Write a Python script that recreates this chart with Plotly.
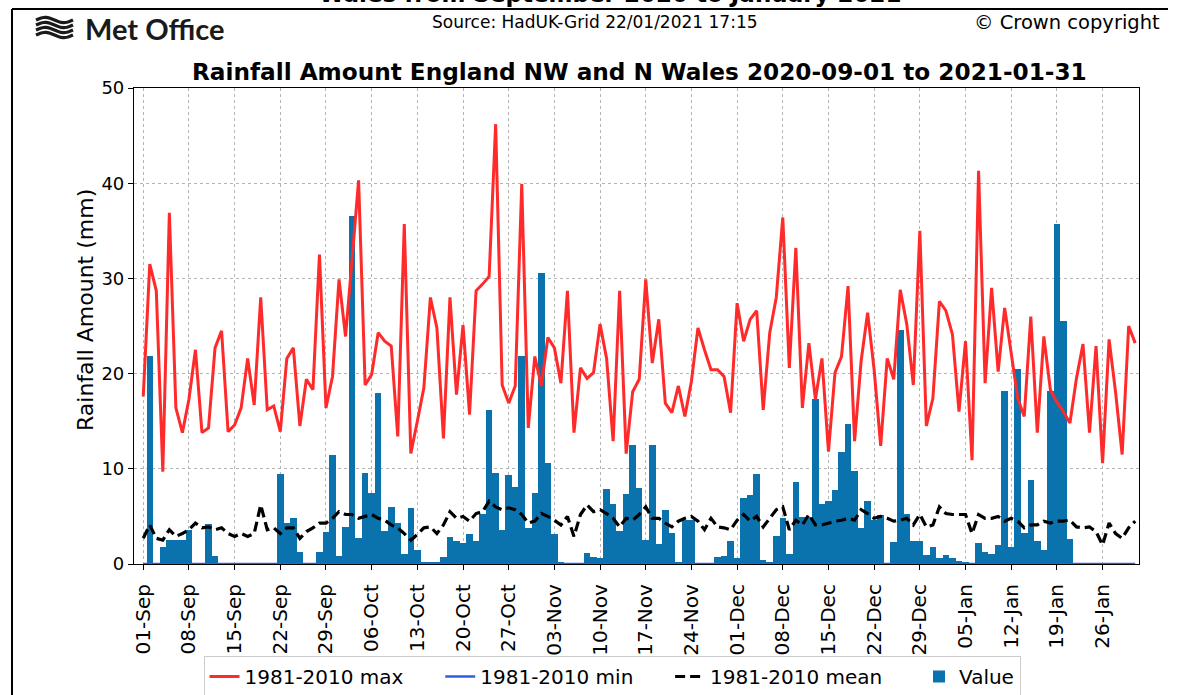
import numpy as np
import pandas as pd
import plotly.graph_objects as go

# ---- data: daily rainfall (mm), 2020-09-01 .. 2021-01-31 ----
dates = pd.date_range("2020-09-01", "2021-01-31", freq="D")

max_1981_2010 = [
    17.6, 31.5, 28.7, 9.7, 36.9, 16.4, 13.8, 17.3, 22.5, 13.8,
    14.3, 22.7, 24.5, 13.9, 14.6, 16.4, 21.6, 16.7, 28.0, 16.2,
    16.6, 13.9, 21.6, 22.7, 14.5, 19.4, 18.3, 32.5, 16.4, 19.7,
    29.9, 23.9, 32.0, 40.3, 18.8, 19.9, 24.3, 23.4, 22.9, 13.4,
    35.7, 11.6, 15.0, 18.5, 28.0, 24.8, 13.2, 28.0, 17.8, 25.1,
    15.7, 28.7, 29.4, 30.2, 46.2, 18.8, 16.9, 18.7, 39.9, 14.3,
    21.8, 18.7, 23.8, 22.7, 19.0, 28.7, 13.8, 20.6, 19.5, 20.1,
    25.2, 21.6, 12.9, 28.7, 11.6, 18.1, 19.4, 29.9, 21.1, 25.7,
    16.9, 15.9, 18.7, 15.5, 19.2, 24.8, 22.5, 20.4, 20.4, 19.7,
    15.9, 27.4, 23.4, 25.7, 26.6, 16.2, 24.3, 28.0, 36.4, 20.6,
    33.2, 16.4, 23.2, 17.3, 21.6, 11.8, 20.1, 21.8, 29.2, 12.9,
    21.3, 26.4, 20.4, 12.4, 21.6, 19.4, 28.8, 25.2, 18.8, 35.0,
    14.5, 17.4, 27.6, 26.6, 24.1, 16.0, 23.4, 10.9, 41.3, 19.0,
    29.0, 20.2, 26.9, 22.2, 17.4, 15.5, 26.0, 13.8, 23.9, 18.3,
    17.0, 16.0, 14.8, 19.5, 23.1, 13.8, 22.9, 10.6, 23.6, 18.0,
    11.5, 25.0, 23.2,
]

min_1981_2010 = [0.0] * len(dates)

mean_1981_2010 = [
    2.7, 4.1, 2.7, 2.5, 3.6, 2.9, 3.2, 3.6, 4.3, 3.8,
    3.9, 3.6, 3.8, 3.2, 2.9, 3.2, 2.9, 3.2, 6.2, 3.6,
    3.8, 3.2, 3.8, 3.8, 2.7, 3.4, 3.8, 4.3, 4.3, 4.8,
    5.5, 5.2, 5.2, 4.8, 5.0, 5.2, 4.8, 4.6, 4.1, 3.8,
    3.2, 2.5, 3.1, 3.8, 3.9, 3.2, 4.1, 5.5, 4.8, 5.0,
    4.5, 5.3, 5.5, 6.6, 6.0, 5.7, 5.9, 5.7, 5.2, 4.3,
    4.5, 5.3, 5.0, 4.6, 4.1, 5.0, 2.9, 5.2, 6.2, 5.5,
    5.7, 5.3, 4.8, 3.9, 4.8, 4.6, 5.2, 6.0, 4.8, 4.8,
    4.3, 3.9, 4.5, 4.8, 5.0, 4.5, 3.6, 4.8, 3.9, 3.8,
    3.6, 4.6, 5.2, 4.5, 5.0, 3.9, 4.8, 5.7, 6.0, 3.6,
    4.6, 4.1, 5.2, 4.1, 4.1, 4.3, 4.5, 4.6, 4.8, 4.6,
    5.7, 5.3, 4.8, 5.0, 4.8, 4.5, 4.6, 4.8, 4.1, 5.2,
    3.9, 4.1, 6.0, 5.3, 5.2, 5.2, 5.2, 3.2, 5.2, 4.8,
    4.8, 5.0, 4.5, 4.8, 4.5, 3.8, 4.1, 4.1, 4.5, 4.3,
    4.5, 4.5, 4.6, 3.9, 3.8, 3.9, 3.4, 2.0, 4.3, 3.2,
    2.7, 3.8, 4.5,
]

# observed daily totals, available up to 21 Jan 2021
observed = [
    0.0, 21.9, 0.1, 1.8, 2.5, 2.5, 2.5, 3.6, 0.0, 0.0,
    4.2, 0.8, 0.0, 0.0, 0.0, 0.0, 0.0, 0.0, 0.0, 0.0,
    0.0, 9.5, 4.3, 4.8, 1.3, 0.05, 0.0, 1.3, 3.4, 11.4,
    0.8, 3.9, 36.6, 2.7, 9.6, 7.5, 18.0, 3.5, 6.0, 4.3,
    1.1, 5.9, 1.5, 0.2, 0.2, 0.2, 0.7, 2.8, 2.4, 2.2,
    3.2, 2.4, 5.3, 16.2, 9.6, 3.6, 9.4, 8.1, 21.8, 3.8,
    7.5, 30.6, 10.6, 3.1, 0.2, 0.1, 0.1, 0.1, 1.2, 0.7,
    0.6, 7.9, 6.3, 3.5, 7.4, 12.5, 8.0, 2.5, 12.5, 2.1,
    5.7, 3.3, 0.2, 4.6, 4.6, 0.05, 0.05, 0.05, 0.7, 0.8,
    2.4, 0.6, 6.9, 7.2, 9.5, 0.4, 0.2, 2.9, 4.8, 1.1,
    8.6, 4.9, 4.9, 17.3, 6.3, 6.6, 7.8, 11.8, 14.7, 9.8,
    3.8, 6.6, 4.6, 5.2, 0.1, 2.3, 24.6, 5.3, 2.4, 2.4,
    0.9, 1.8, 0.6, 0.9, 0.6, 0.3, 0.2, 0.1, 2.2, 1.3,
    1.1, 2.0, 18.2, 1.8, 20.5, 3.3, 8.8, 2.4, 1.5, 18.2,
    35.7, 25.5, 2.6,
]
observed = observed + [None] * (len(dates) - len(observed))

y_ticks = [0, 10, 20, 30, 40, 50]

assert len(max_1981_2010) == len(dates) == len(mean_1981_2010)

# ---- page geometry ----
W, H = 1200, 695
L, R, T, B = 134, 1139, 88, 564


def px(x):
    return (x - L) / (R - L)


def py(y):
    return (B - y) / (B - T)


FONT = "DejaVu Sans"
BAR_COLOUR = "#0a72ad"
PAD = "\u00a0" * 5  # extra spacing after legend labels

fig = go.Figure()

fig.add_trace(go.Bar(
    x=dates, y=observed, name="Value",
    marker=dict(color=BAR_COLOUR, line=dict(width=0)),
    width=86400000, legendrank=4,
))
fig.add_trace(go.Scatter(
    x=dates, y=max_1981_2010, name="1981-2010 max" + PAD, mode="lines",
    line=dict(color="#ff2a2a", width=3), legendrank=1,
))
fig.add_trace(go.Scatter(
    x=dates, y=min_1981_2010, name="1981-2010 min" + PAD, mode="lines",
    line=dict(color="#2d5fe6", width=2.5), legendrank=2,
))
fig.add_trace(go.Scatter(
    x=dates, y=mean_1981_2010, name="1981-2010 mean" + PAD, mode="lines",
    line=dict(color="black", width=3.2, dash="10px,5px"), legendrank=3,
))

x0 = dates[0] - pd.Timedelta(hours=34)
x1 = dates[-1] + pd.Timedelta(hours=14)

axis_common = dict(
    showline=True, linecolor="black", linewidth=1.2, mirror=True,
    ticks="outside", ticklen=5, tickcolor="black",
    showgrid=True, gridcolor="#b5b5b5", gridwidth=1, griddash="dot",
    zeroline=False,
)

fig.update_xaxes(
    type="date", range=[x0, x1], tick0="2020-09-01", dtick=7 * 86400000,
    tickformat="%d-%b", tickangle=-90, ticklabelstandoff=6,
    tickfont=dict(family=FONT, size=20, color="black"),
    **axis_common,
)
fig.update_yaxes(
    range=[0, 50], tickvals=y_ticks,
    tickfont=dict(family=FONT, size=18, color="black"),
    **axis_common,
)

annotations = [
    dict(text="Rainfall Amount (mm)", x=px(85), y=py(310), textangle=-90,
         font=dict(family=FONT, size=22, color="black")),
    dict(text="<b>Rainfall Amount England NW and N Wales 2020-09-01 to 2021-01-31</b>",
         x=px(639), y=py(72), font=dict(family=FONT, size=23.2, color="black")),
    dict(text="Source: HadUK-Grid 22/01/2021 17:15", x=px(595), y=py(22),
         font=dict(family=FONT, size=17, color="black")),
    dict(text="© Crown copyright", x=px(1067), y=py(22),
         font=dict(family=FONT, size=19.5, color="black")),
    dict(text="<b>Met Office</b>", x=px(83), y=py(28), xanchor="left",
         font=dict(family="Lato", size=29, color="#1a1a1a")),
    dict(text="<b>Wales from September 2020 to January 2021</b>", x=px(610), y=py(-6),
         font=dict(family=FONT, size=23, color="black")),
]
for a in annotations:
    a.setdefault("xanchor", "center")
    a.update(xref="paper", yref="paper", showarrow=False, yanchor="middle")

shapes = [
    dict(type="line", x0=px(12), x1=px(1168), y0=py(9), y1=py(9),
         line=dict(color="black", width=2)),
    dict(type="line", x0=px(12), x1=px(12), y0=py(9), y1=py(700),
         line=dict(color="black", width=2)),
]

# logo emblem: four stacked waves
xs = np.linspace(36, 73, 30)
for k, yb in enumerate([20, 25, 30, 35]):
    ys = yb - 2.6 * np.sin((xs - 36) / 37 * 2 * np.pi)
    path = "M " + " L ".join(f"{px(a):.5f},{py(b):.5f}" for a, b in zip(xs, ys))
    shapes.append(dict(type="path", path=path, xref="paper", yref="paper",
                       line=dict(color="#1a1a1a", width=3.2)))
for s in shapes:
    s.setdefault("xref", "paper")
    s.setdefault("yref", "paper")
    s["layer"] = "above"

fig.update_layout(
    width=W, height=H,
    margin=dict(l=L, r=W - R, t=T, b=H - B, autoexpand=False),
    paper_bgcolor="white", plot_bgcolor="white",
    bargap=0, showlegend=True,
    legend=dict(
        orientation="h", x=px(612), y=py(656), xanchor="center", yanchor="top",
        font=dict(family=FONT, size=20, color="black"),
        bordercolor="#cccccc", borderwidth=1, bgcolor="white",
        traceorder="normal",
    ),
    annotations=annotations, shapes=shapes,
)

fig.write_html("out.html")
